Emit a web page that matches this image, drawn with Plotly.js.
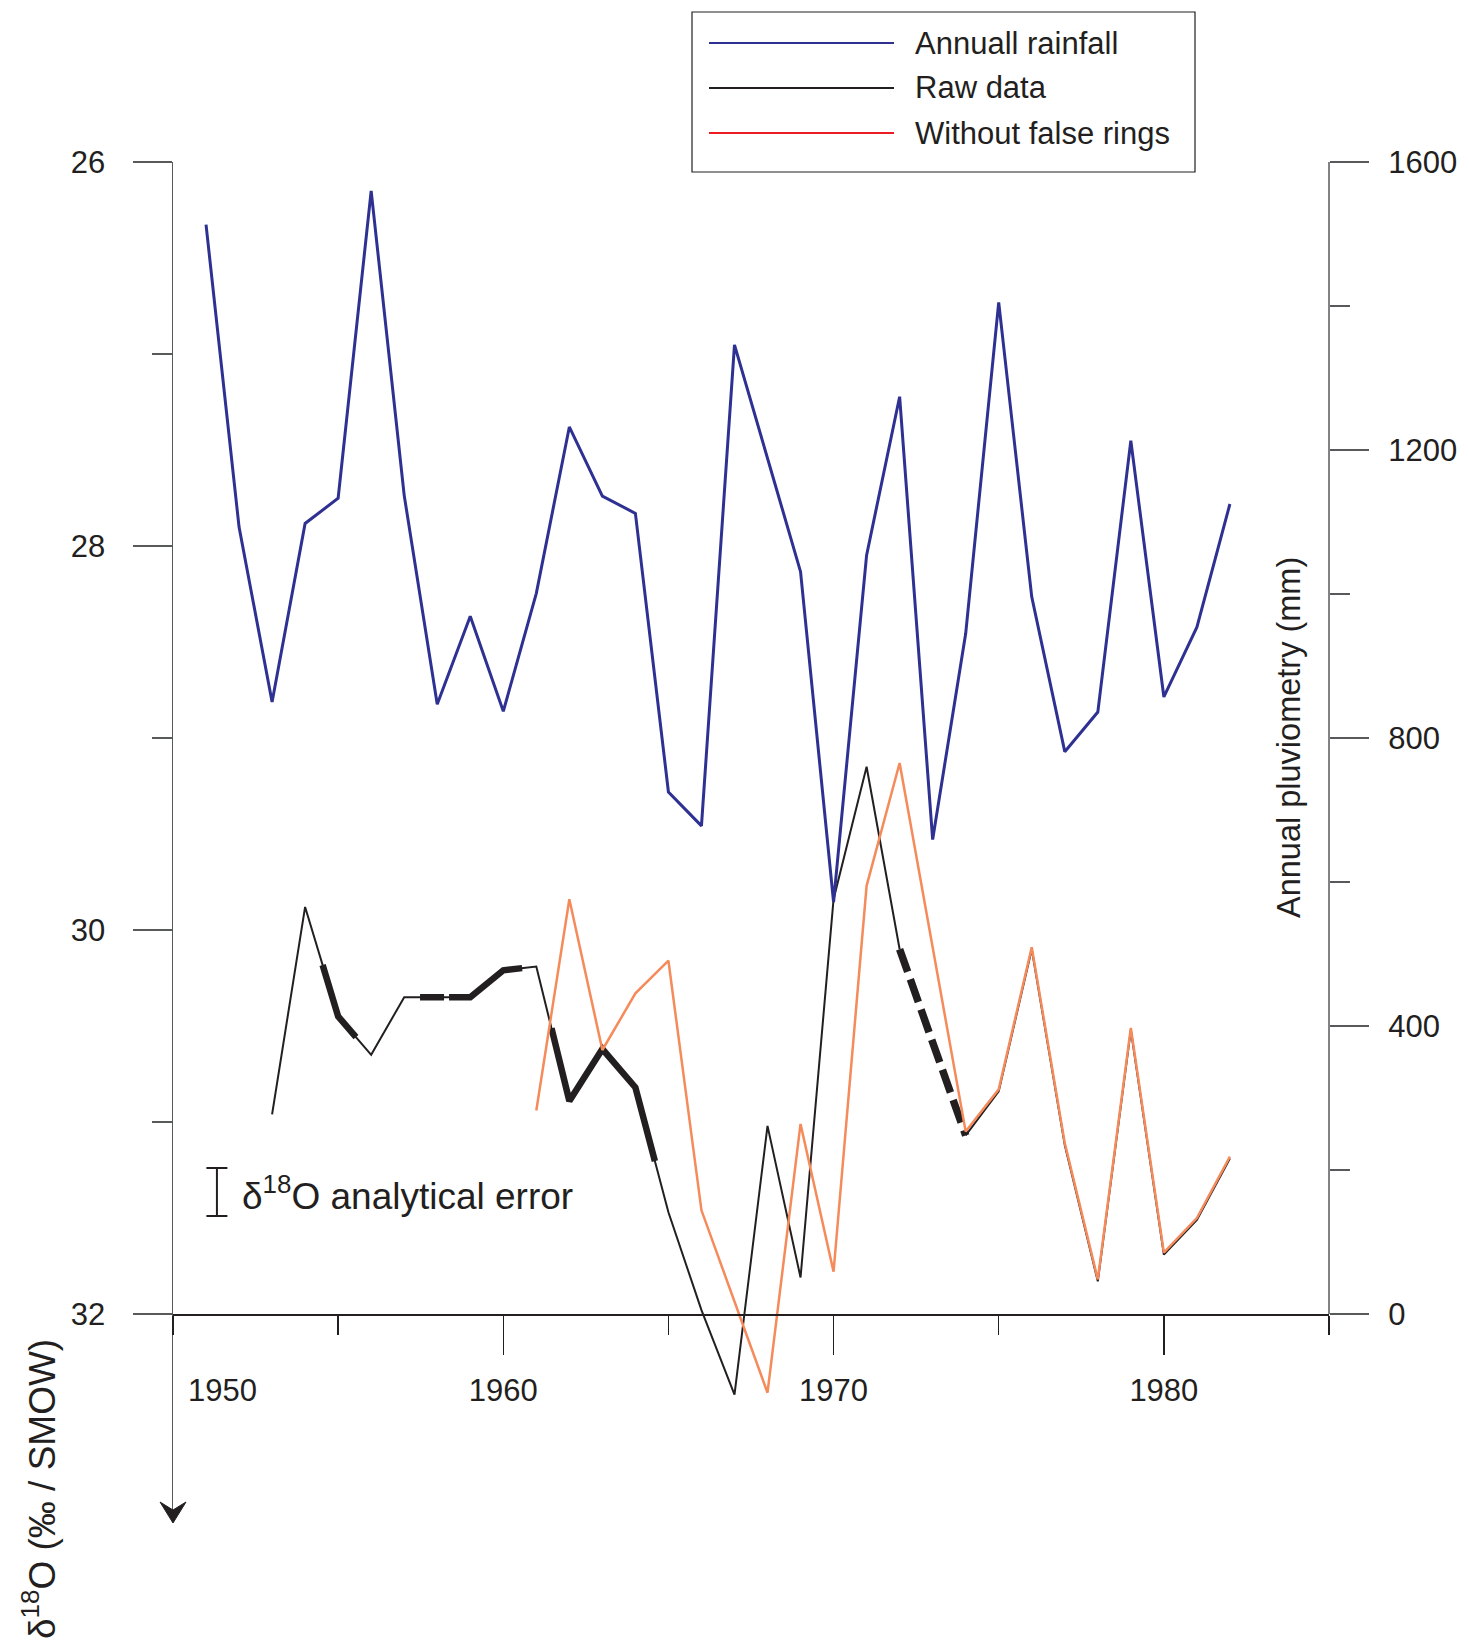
<!DOCTYPE html>
<html>
<head>
<meta charset="utf-8">
<script src="https://cdn.plot.ly/plotly-3.0.1.min.js"></script>
<style>html,body{margin:0;padding:0;background:#fff;}</style>
</head>
<body>
<div id="chart" style="width:1469px;height:1643px;"></div>
<script>
// ---------------- DATA ----------------
const rainYears = [1951,1952,1953,1954,1955,1956,1957,1958,1959,1960,1961,1962,1963,1964,1965,1966,1967,1968,1969,1970,1971,1972,1973,1974,1975,1976,1977,1978,1979,1980,1981,1982];
const rainfall  = [1513,1093,850,1098,1133,1560,1137,847,969,837,1001,1232,1136,1112,725,678,1346,1189,1031,572,1054,1274,659,945,1405,996,781,836,1213,857,954,1125];

const rawYears = [1953,1954,1955,1956,1957,1958,1959,1960,1961,1962,1963,1964,1965,1966,1967,1968,1969,1970,1971,1972,1973,1974,1975,1976,1977,1978,1979,1980,1981,1982];
const rawD18O  = [30.96,29.88,30.45,30.65,30.35,30.35,30.35,30.21,30.19,30.89,30.62,30.82,31.47,31.98,32.42,31.02,31.81,29.84,29.15,30.10,null,31.07,30.84,30.10,31.12,31.83,30.52,31.69,31.51,31.19];

const corrYears = [1961,1962,1963,1964,1965,1966,1968,1969,1970,1971,1972,1974,1975,1976,1977,1978,1979,1980,1981,1982];
const corrD18O  = [30.94,29.84,30.625,30.33,30.16,31.46,32.41,31.01,31.78,29.77,29.13,31.05,30.83,30.09,31.11,31.82,30.51,31.68,31.50,31.18];

// highlighted portions of the raw series (year ranges)
const thickSolidRanges  = [[1954.53,1955.54],[1961.46,1964.59]];
const thickBrokenRanges = [[1957.48,1960.57]];
const thickDashedRanges = [[1972,1974]];

const leftTicks  = [26,28,30,32];
const leftMinor  = [27,29,31];
const rightTicks = [0,400,800,1200,1600];
const rightMinor = [200,600,1000,1400];
const xTicks     = [1960,1970,1980];

const errorBarYear = 1951.33, errorBarCenter = 31.365, analyticalError = 0.125;

const seriesNames = ['Annuall rainfall','Raw data','Without false rings'];

// ---------------- GEOMETRY ----------------
const W = 1469, H = 1643;
const L = 173, R = 1329, T = 162, B = 1522, XAXIS_Y = 1314;
const PX = v => (v - L) / (R - L);
const PY = v => (B - v) / (B - T);
const perUnit = (XAXIS_Y - T) / 6;
const yBottom = 26 + (B - T) / perUnit;
const perMM = (XAXIS_Y - T) / 1600;
const y2Bottom = -(B - XAXIS_Y) / perMM;

const FONT = 'Liberation Sans, Arial, Helvetica, sans-serif';
const INK = '#231F20';
const AXIS = '#58595B';
const BLUE = '#2E3192', ORANGE = '#F58A5B', RED = '#ED1C24';

function portion(xs, ys, a, b) {
  const pts = xs.map((x,i)=>[x,ys[i]]).filter(p=>p[1]!==null);
  const val = t => {
    for (let i=0;i<pts.length-1;i++){
      const [x0,y0]=pts[i],[x1,y1]=pts[i+1];
      if (t>=x0 && t<=x1) return y0+(y1-y0)*(t-x0)/(x1-x0);
    }
    return null;
  };
  const sx=[a], sy=[val(a)];
  pts.forEach(p=>{ if(p[0]>a && p[0]<b){ sx.push(p[0]); sy.push(p[1]); } });
  sx.push(b); sy.push(val(b));
  return {x:sx, y:sy};
}

const traces = [];
traces.push({type:'scatter', mode:'lines', name:seriesNames[0], x:rainYears, y:rainfall, yaxis:'y2',
  line:{color:BLUE, width:3}, hoverinfo:'x+y'});
traces.push({type:'scatter', mode:'lines', name:seriesNames[1], x:rawYears, y:rawD18O, connectgaps:false,
  line:{color:INK, width:2}, hoverinfo:'x+y'});
thickSolidRanges.forEach(r=>{ const p=portion(rawYears, rawD18O, r[0], r[1]);
  traces.push({type:'scatter', mode:'lines', x:p.x, y:p.y, line:{color:INK, width:6.5}, hoverinfo:'skip', showlegend:false}); });
thickBrokenRanges.forEach(r=>{ const p=portion(rawYears, rawD18O, r[0], r[1]);
  traces.push({type:'scatter', mode:'lines', x:p.x, y:p.y, line:{color:INK, width:6.5, dash:'24px,5px,400px'}, hoverinfo:'skip', showlegend:false}); });
thickDashedRanges.forEach(r=>{ const p=portion(rawYears, rawD18O, r[0], r[1]);
  traces.push({type:'scatter', mode:'lines', x:p.x, y:p.y, line:{color:INK, width:7.5, dash:'24px,8px'}, hoverinfo:'skip', showlegend:false}); });
traces.push({type:'scatter', mode:'lines', name:seriesNames[2], x:corrYears, y:corrD18O,
  line:{color:ORANGE, width:2.5}, hoverinfo:'x+y'});
traces.push({type:'scatter', mode:'markers', x:[errorBarYear], y:[errorBarCenter],
  marker:{size:1, color:'rgba(0,0,0,0)'}, hoverinfo:'skip',
  error_y:{type:'data', array:[analyticalError], visible:true, width:10.5, thickness:2, color:INK}});

const legendLineY = [43, 88, 133];
const legendColors = [BLUE, INK, RED];

const arrowPath = 'M ' + PX(173) + ' ' + PY(1523) + ' L ' + PX(160) + ' ' + PY(1502) + ' L ' + PX(173) + ' ' + PY(1510) +
                  ' L ' + PX(186) + ' ' + PY(1502) + ' Z';

const shapes = [
  {type:'line', xref:'paper', yref:'y2', x0:1, x1:1, y0:0, y1:1600, line:{color:AXIS, width:1.5}},
  {type:'rect', xref:'paper', yref:'paper', x0:PX(692), x1:PX(1195), y0:PY(12), y1:PY(172), line:{color:INK, width:1.2}, fillcolor:'rgba(0,0,0,0)'},
  {type:'path', xref:'paper', yref:'paper', path:arrowPath, fillcolor:INK, line:{color:INK, width:1}}
];
legendLineY.forEach((yy,i)=>shapes.push({type:'line', xref:'paper', yref:'paper', x0:PX(709), x1:PX(894), y0:PY(yy), y1:PY(yy), line:{color:legendColors[i], width:2.2}}));

const annotations = [];
legendLineY.forEach((yy,i)=>annotations.push({xref:'paper', yref:'paper', x:PX(913), y:PY(yy), xanchor:'left', yanchor:'middle',
  text:seriesNames[i], showarrow:false, font:{family:FONT, size:31, color:INK}}));
annotations.push({xref:'x', yref:'paper', x:1951.5, y:PY(1390), xanchor:'center', yanchor:'middle', text:'1950', showarrow:false, font:{family:FONT, size:31, color:INK}});
annotations.push({xref:'paper', yref:'paper', x:PX(240), y:PY(1193), xanchor:'left', yanchor:'middle', text:'δ<sup>18</sup>O analytical error', showarrow:false, font:{family:FONT, size:37, color:INK}});
annotations.push({xref:'paper', yref:'paper', x:PX(39), y:PY(1489), xanchor:'center', yanchor:'middle', textangle:-90, text:'δ<sup>18</sup>O (‰ / SMOW)', showarrow:false, font:{family:FONT, size:37, color:INK}});
annotations.push({xref:'paper', yref:'paper', x:PX(1289), y:PY(738), xanchor:'center', yanchor:'middle', textangle:-90, text:'Annual pluviometry (mm)', showarrow:false, font:{family:FONT, size:32.5, color:INK}});

const layout = {
  width:W, height:H,
  margin:{l:L, r:W-R, t:T, b:H-B, pad:0},
  paper_bgcolor:'#ffffff', plot_bgcolor:'#ffffff',
  showlegend:false,
  font:{family:FONT, size:31, color:INK},
  xaxis:{range:[1950,1985], anchor:'free', position:PY(XAXIS_Y), showline:true, linecolor:INK, linewidth:1.5,
    showgrid:false, zeroline:false, ticks:'outside', ticklen:39, tickwidth:1.5, tickcolor:INK,
    tickmode:'array', tickvals:xTicks, tickfont:{family:FONT, size:31, color:INK}, ticklabelstandoff:9,
    minor:{tickmode:'linear', tick0:1950, dtick:5, ticks:'outside', ticklen:19, tickwidth:1.5, tickcolor:INK}},
  yaxis:{range:[yBottom, 26], showline:true, linecolor:AXIS, linewidth:1.5, showgrid:false, zeroline:false,
    ticks:'outside', ticklen:39, tickwidth:1.5, tickcolor:AXIS, tickmode:'array', tickvals:leftTicks,
    tickfont:{family:FONT, size:31, color:INK}, ticklabelstandoff:21,
    minor:{tickmode:'array', tickvals:leftMinor, ticks:'outside', ticklen:20, tickwidth:1.5, tickcolor:AXIS}},
  yaxis2:{range:[y2Bottom, 1600], overlaying:'y', side:'right', showline:false, showgrid:false, zeroline:false,
    ticks:'outside', ticklen:39, tickwidth:1.5, tickcolor:AXIS, tickmode:'array', tickvals:rightTicks,
    tickfont:{family:FONT, size:31, color:INK}, ticklabelstandoff:13,
    minor:{tickmode:'array', tickvals:rightMinor, ticks:'outside', ticklen:20, tickwidth:1.5, tickcolor:AXIS}},
  shapes:shapes,
  annotations:annotations
};

Plotly.newPlot('chart', traces, layout, {displayModeBar:false, staticPlot:true});
</script>
</body>
</html>
